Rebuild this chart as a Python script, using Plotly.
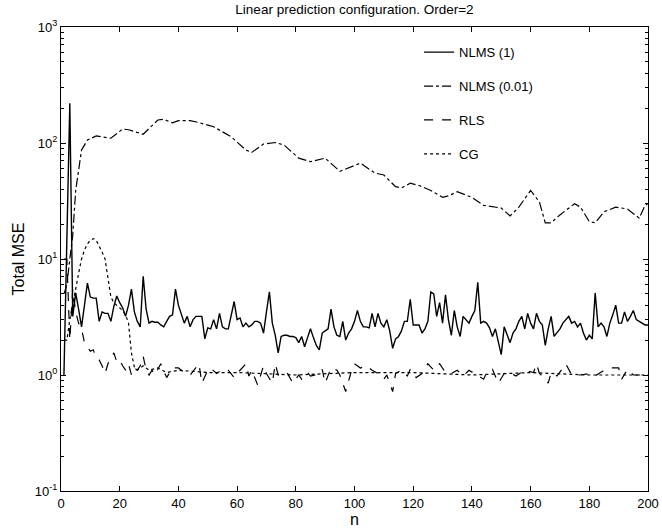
import plotly.graph_objects as go

# NLMS (1): n = 1..200
nlms1_n = list(range(1, 201))
nlms1_mse = [
    1.0, 15, 220, 3.2, 5.1, 3.7, 2.6, 4.0, 6.2, 4.7,
    4.6, 4.6, 2.9, 3.5, 3.4, 3.4, 2.9, 3.9, 4.8, 4.2,
    3.8, 3.2, 4.0, 5.5, 3.5, 2.9, 2.6, 7.1, 3.7, 2.8,
    2.9, 2.85, 2.85, 2.7, 2.6, 2.9, 3.2, 3.3, 5.5, 4.0,
    3.3, 2.8, 3.2, 2.6, 3.0, 3.2, 3.2, 3.2, 2.05, 2.55,
    2.5, 3.0, 2.5, 3.4, 2.6, 2.5, 2.5, 3.2, 4.3, 3.0,
    3.1, 2.6, 2.8, 2.6, 2.7, 2.9, 2.9, 2.8, 2.3, 3.5,
    5.2, 2.8, 2.2, 1.55, 2.15, 2.2, 2.2, 2.15, 2.15, 2.1,
    1.9, 2.15, 1.75, 2.1, 2.5, 2.1, 1.8, 1.65, 2.3, 2.4,
    2.5, 3.7, 2.6, 2.2, 2.15, 2.9, 2.0, 2.3, 2.5, 2.9,
    3.6, 2.9, 2.6, 2.6, 2.55, 3.4, 2.6, 3.4, 2.8, 2.6,
    3.0, 2.4, 1.7, 2.05, 2.15, 2.4, 2.9, 2.9, 4.5, 2.7,
    2.7, 2.7, 2.3, 2.5, 2.9, 5.2, 5.0, 3.2, 4.2, 2.8,
    4.9, 3.0, 2.2, 3.6, 2.6, 2.15, 3.2, 3.0, 2.8, 3.2,
    3.6, 6.3, 2.8, 2.9, 2.8, 2.55, 2.15, 2.5, 1.9, 1.5,
    2.6, 2.2, 1.9, 2.3, 2.5, 2.9, 3.2, 2.5, 3.4, 2.8,
    2.5, 3.4, 2.9, 2.7, 1.8, 2.5, 3.2, 2.15, 2.3, 2.5,
    2.8, 3.0, 3.2, 2.8, 2.9, 2.6, 2.8, 2.3, 2.0, 2.2,
    2.05, 5.1, 2.6, 2.8, 2.6, 2.15, 2.8, 3.3, 4.0, 2.8,
    2.8, 3.5, 2.9, 3.2, 3.6, 3.0, 2.9, 2.8, 2.7, 2.7,
]

# NLMS (0.01)
nlms001_n = [1, 2, 3, 4, 5, 7, 9, 12, 17, 21, 23, 28, 33, 35, 38, 40, 44, 47, 52, 58,
             63, 65, 69, 73, 76, 81, 85, 90, 95, 102, 107, 110, 114, 116, 119, 122, 126, 130, 132, 135,
             140, 144, 150, 153, 156, 160, 163, 165, 167, 170, 175, 177, 180, 182, 185, 189, 193, 197, 199, 200]
nlms001_mse = [5, 6, 10, 16, 39, 87, 106, 115, 110, 132, 130, 119, 158, 160, 149, 156, 156, 150, 138, 113,
               87, 83, 98, 101, 96, 74, 69, 74, 57, 67, 55, 53, 42, 41, 45, 43, 39, 34, 35, 38,
               34, 29, 27.5, 23.5, 28, 39, 31, 20.5, 20.5, 24, 30, 28, 21, 20.5, 25.5, 28, 27, 22.5, 29, 30]

# RLS
rls_n = [1, 2, 3, 4, 5, 6, 7, 8, 9, 10, 11, 12, 13, 14, 15, 16, 17, 18, 19, 20,
         21, 22, 23, 24, 25, 26, 27, 28, 29, 30, 31, 32, 34, 35, 36, 38, 40, 42, 44, 47,
         48, 50, 51, 53, 55, 57, 59, 60, 63, 64, 65, 67, 69, 70, 72, 73, 74, 76, 77, 79,
         81, 82, 84, 85, 88, 89, 90, 92, 94, 95, 97, 99, 100, 102, 104, 106, 108, 110, 111, 113,
         114, 116, 118, 119, 121, 123, 125, 127, 129, 131, 133, 135, 137, 139, 141, 144, 145, 147, 149, 151,
         153, 155, 158, 161, 162, 163, 164, 166, 167, 169, 172, 174, 177, 180, 182, 185, 187, 190, 191, 193,
         195, 198, 200]
rls_mse = [10, 10, 2.0, 5.5, 3.5, 2.8, 2.5, 1.9, 1.75, 1.6, 1.65, 1.4, 1.35, 1.2, 1.03, 1.25, 1.4, 1.55, 1.3, 1.35,
           1.2, 1.1, 1.25, 1.0, 1.15, 1.1, 1.2, 1.45, 1.1, 1.0, 1.1, 1.0, 1.25, 1.1, 0.95, 1.15, 1.15, 1.05, 1.0, 1.25,
           0.85, 1.1, 1.15, 1.03, 1.12, 1.1, 0.95, 1.03, 1.25, 0.98, 1.1, 0.82, 1.2, 1.03, 0.85, 1.25, 1.0, 1.05, 1.05, 0.85,
           1.0, 0.92, 1.05, 0.98, 1.02, 1.12, 0.85, 1.15, 1.1, 1.0, 0.72, 1.1, 1.25, 1.15, 1.2, 1.1, 1.03, 0.92, 1.0, 0.72,
           1.03, 1.1, 0.98, 1.12, 0.95, 1.03, 1.25, 1.1, 1.25, 1.05, 1.03, 1.1, 0.98, 1.1, 1.03, 0.92, 1.05, 1.12, 0.85, 1.03,
           1.05, 0.98, 1.1, 1.05, 1.25, 1.03, 0.98, 0.85, 1.05, 0.98, 1.25, 1.0, 1.0, 1.03, 0.98, 1.1, 1.15, 1.15, 0.92, 1.12,
           1.0, 1.0, 0.98]

# CG
cg_n = [1, 2, 3, 4, 5, 6, 7, 8, 9, 10, 11, 12, 13, 14, 15, 16, 17, 18, 19, 20,
        21, 22, 23, 24, 25, 26, 28, 30, 33, 36, 40, 50, 60, 80, 100, 120, 140, 160, 180, 200]
cg_mse = [2.0, 2.0, 3.0, 4.2, 5.5, 7.5, 10, 12, 13.5, 14.5, 15, 14.5, 13, 11.5, 10, 7, 4.7, 4.2, 4.0, 3.8,
          3.6, 3.3, 2.8, 1.55, 1.17, 1.1, 1.2, 1.1, 1.15, 1.05, 1.1, 1.05, 1.05, 1.0, 1.05, 1.05, 1.0, 1.05, 1.0, 1.0]

y_tickvals = [0.1, 1, 10, 100, 1000]
y_ticktext = ['10<sup>-1</sup>', '10<sup>0</sup>', '10<sup>1</sup>', '10<sup>2</sup>', '10<sup>3</sup>']
y_minor = [m * d for d in (0.1, 1, 10, 100) for m in range(2, 10)]

fig = go.Figure()
fig.add_trace(go.Scatter(x=nlms1_n, y=nlms1_mse, mode='lines', name='NLMS (1)', legendgroup='a',
                         line=dict(color='black', width=1.4)))
fig.add_trace(go.Scatter(x=nlms001_n, y=nlms001_mse, mode='lines', name='NLMS (0.01)', legendgroup='b',
                         line=dict(color='black', width=1.2, dash='dashdot')))
fig.add_trace(go.Scatter(x=rls_n, y=rls_mse, mode='lines', name='RLS', legendgroup='c',
                         line=dict(color='black', width=1.2, dash='dash')))
fig.add_trace(go.Scatter(x=cg_n, y=cg_mse, mode='lines', name='CG', legendgroup='d',
                         line=dict(color='black', width=1.2, dash='dot')))

fnt = dict(family='Liberation Sans, Arial, sans-serif', size=13, color='black')
fig.update_layout(
    width=662, height=531,
    margin=dict(l=61, r=14, t=27, b=40),
    paper_bgcolor='white', plot_bgcolor='white',
    font=fnt,
    title=dict(text='Linear prediction configuration. Order=2', xref='paper', x=0.5, xanchor='center',
               y=0.992, yanchor='top', font=dict(size=13.5)),
    showlegend=True,
    legend=dict(x=0.61, y=0.978, xanchor='left', yanchor='top', bgcolor='rgba(0,0,0,0)',
                tracegroupgap=14, itemwidth=30, font=dict(size=13)),
)
fig.update_xaxes(range=[0, 200], dtick=20, ticks='inside', ticklen=5, tickcolor='black',
                 showline=True, linecolor='black', linewidth=1, mirror='ticks',
                 showgrid=False, zeroline=False, automargin=False,
                 title=dict(text='n', standoff=0))
fig.update_yaxes(type='log', range=[-1, 3], tickmode='array', tickvals=y_tickvals, ticktext=y_ticktext,
                 ticks='inside', ticklen=5, tickcolor='black',
                 minor=dict(ticks='inside', ticklen=3, tickcolor='black', tickmode='array',
                            tickvals=y_minor, showgrid=False),
                 showline=True, linecolor='black', linewidth=1, mirror='ticks',
                 showgrid=False, zeroline=False, automargin=False,
                 title=dict(text='Total MSE', standoff=6))

fig.write_html("out.html", config={'displayModeBar': False},
               post_script="document.body.style.margin='0px';")
